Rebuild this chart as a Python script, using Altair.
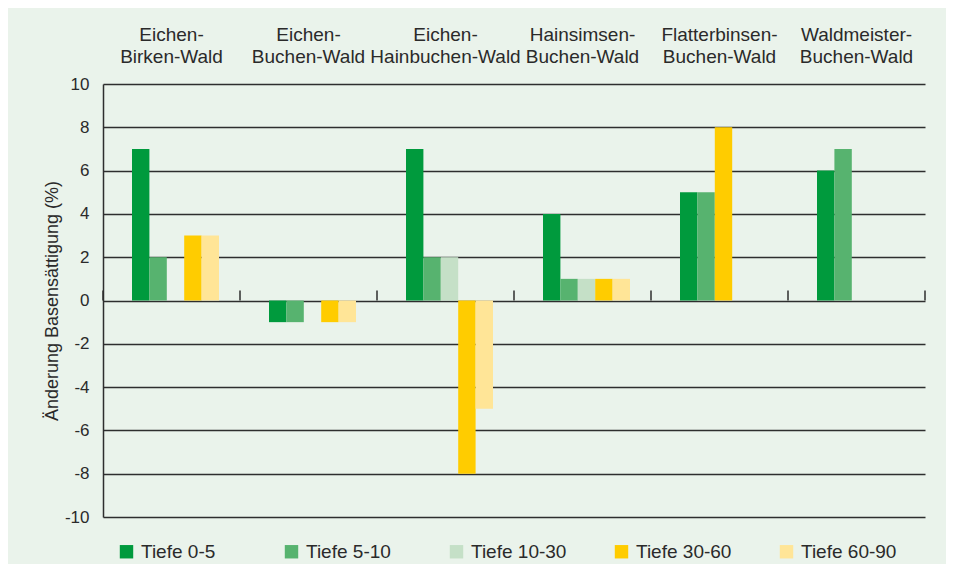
import altair as alt
import pandas as pd

categories = [
    "Eichen-\nBirken-Wald",
    "Eichen-\nBuchen-Wald",
    "Eichen-\nHainbuchen-Wald",
    "Hainsimsen-\nBuchen-Wald",
    "Flatterbinsen-\nBuchen-Wald",
    "Waldmeister-\nBuchen-Wald",
]
series = ["Tiefe 0-5", "Tiefe 5-10", "Tiefe 10-30", "Tiefe 30-60", "Tiefe 60-90"]

t0_5 = [7, -1, 7, 4, 5, 6]
t5_10 = [2, -1, 2, 1, 5, 7]
t10_30 = [None, None, 2, 1, None, None]
t30_60 = [3, -1, -8, 1, 8, None]
t60_90 = [3, -1, -5, 1, None, None]
values = [t0_5, t5_10, t10_30, t30_60, t60_90]

# order of the series within each group (Flatterbinsen group is packed)
bar_order = [
    [0, 1, 2, 3, 4],
    [0, 1, 2, 3, 4],
    [0, 1, 2, 3, 4],
    [0, 1, 2, 3, 4],
    [0, 1, 3, 2, 4],
    [0, 1, 2, 3, 4],
]

colors = ["#009a3d", "#57b36f", "#c5e0c7", "#ffcc00", "#ffe597"]
y_ticks = list(range(-10, 11, 2))

rows = []
for ci, cat in enumerate(categories):
    for slot, si in enumerate(bar_order[ci]):
        v = values[si][ci]
        if v is None:
            continue
        rows.append({"cat": cat, "series": series[si], "slot": slot, "value": v})
df = pd.DataFrame(rows)

FONT = "Liberation Sans"
TXT = "#2a2a2a"
LINE = "#2e2e2e"

x_axis = alt.Axis(
    orient="top", title=None, domain=False, ticks=False, grid=False,
    labelAngle=0, labelFontSize=19, labelLineHeight=22, labelPadding=40,
    labelExpr="split(datum.label, '\\n')", labelColor=TXT, labelFont=FONT,
    labelOverlap=False,
)
y_axis = alt.Axis(
    values=y_ticks, ticks=False, domain=True, domainColor=LINE, domainWidth=1.5,
    grid=True, gridColor=LINE, gridWidth=1.5, labelFontSize=17, labelPadding=14,
    labelExpr="datum.value + ''",
    labelColor=TXT, labelFont=FONT, title="Änderung Basensättigung (%)",
    titleFontSize=18, titleFontWeight="normal", titleColor=TXT, titleFont=FONT,
    titlePadding=3,
)
x_scale = alt.Scale(domain=categories, paddingInner=0, paddingOuter=0)
y_scale = alt.Scale(domain=[-10, 10], nice=False)

bars = alt.Chart(df).mark_bar(strokeWidth=0).encode(
    x=alt.X("cat:N", scale=x_scale, axis=x_axis, sort=categories),
    xOffset=alt.XOffset(
        "slot:O",
        scale=alt.Scale(domain=[0, 1, 2, 3, 4], paddingInner=0, paddingOuter=0, range=[29, 116]),
    ),
    y=alt.Y("value:Q", scale=y_scale, axis=y_axis),
    color=alt.Color(
        "series:N",
        scale=alt.Scale(domain=series, range=colors),
        legend=alt.Legend(
            orient="none", legendX=14, legendY=458, direction="horizontal",
            columns=5, title=None, symbolType="square", symbolSize=180,
            symbolStrokeWidth=0, labelFontSize=19, labelFont=FONT, labelColor=TXT,
            labelOffset=5, gridAlign="all", columnPadding=45, padding=0,
        ),
    ),
)

tick_df = pd.DataFrame({"cat": categories})
ticks_left = alt.Chart(tick_df).mark_rule(color=LINE, strokeWidth=1.5).encode(
    x=alt.X("cat:N", scale=x_scale, axis=x_axis, sort=categories, bandPosition=0),
    y=alt.datum(0),
    y2=alt.datum(0.46),
)
ticks_right = alt.Chart(tick_df.tail(1)).mark_rule(color=LINE, strokeWidth=1.5).encode(
    x=alt.X("cat:N", scale=x_scale, axis=x_axis, sort=categories, bandPosition=1),
    y=alt.datum(0),
    y2=alt.datum(0.46),
)

chart = alt.layer(bars, ticks_left, ticks_right).properties(
    width=822, height=433,
    autosize=alt.AutoSizeParams(type="none"),
    padding={"left": 95, "top": 76, "right": 21, "bottom": 47},
    background="#eaf3eb",
).configure_view(stroke=None)

chart.save("out.html", embed_options={"renderer": "svg", "actions": False})
